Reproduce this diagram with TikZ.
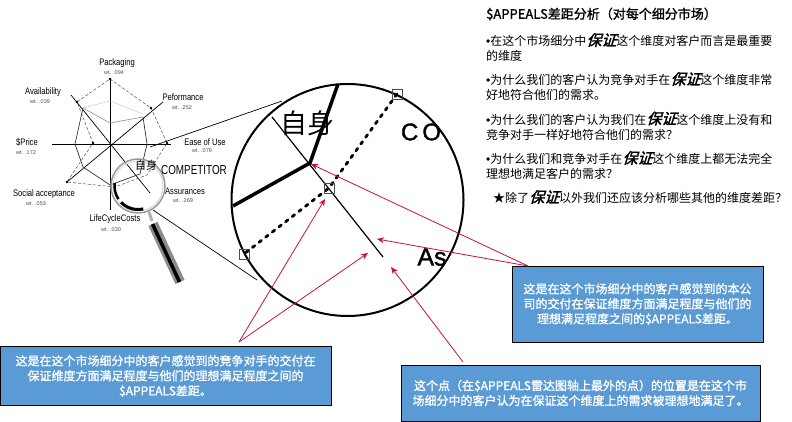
\documentclass[tikz,border=0pt]{standalone}
\usepackage{fontspec}
\setmainfont{Noto Sans CJK SC}
\newfontfamily\latinfont{Liberation Sans}
\newfontfamily\latinheavy[FakeBold=1.5]{Liberation Sans}
\newfontfamily\cjkbold[FakeBold=1.2]{Noto Sans CJK SC}
\newfontfamily\cjkem[FakeSlant=0.3,FakeBold=2]{Noto Sans CJK SC}
\usetikzlibrary{arrows.meta}
\definecolor{boxblue}{HTML}{5B9BD5}
\definecolor{arrowred}{HTML}{C8103F}
\newcommand{\baozheng}{{\fontsize{15}{15}\selectfont\cjkem 保证}}
\tikzset{
    axislabel/.style={font=\latinfont\fontsize{9.5}{10}\selectfont, inner sep=0pt},
    wtlabel/.style={font=\latinfont\fontsize{5.5}{6}\selectfont, text=black!70, inner sep=0pt},
    para/.style={anchor=west, align=left, inner sep=0pt, font=\fontsize{12}{15.2}\selectfont},
    bluebox/.style={draw=black, line width=.8pt, fill=boxblue, text=white, align=center, inner sep=0pt, font=\cjkbold\fontsize{12}{15}\selectfont},
    redarrow/.style={->, draw=arrowred, line width=.8pt},
    marksq/.style={draw=black!70, line width=.8pt, minimum size=10pt, inner sep=0pt}
}
\begin{document}
\begin{tikzpicture}[x=1pt, y=1pt, >={Stealth[length=7pt,width=6pt]}]
    \useasboundingbox (0,0) rectangle (792,422);

    % radar chart
    \foreach \sx/\sy/\ex/\ey in {52/278/171/278, 110/344/110/212, 71/327/150/229, 163/320/67/240}
        \draw[line width=.7pt] (\sx,\sy) -- (\ex,\ey);
    \draw[black!70, densely dashed, line width=.5pt] (110,343) -- (151,314) -- (167,279) -- (147,247)
        -- (115,235) -- (67,240) -- (93,279) -- (77,320) -- (110,343);
    \draw[black!80, line width=.7pt] (143,305) -- (147,278) -- (140,248) -- (110,237)
        -- (83,255) -- (75,278) -- (83,314);
    \draw[black!40, line width=.7pt] (83,314) -- (110,299) -- (143,305);
    \draw[black!20, line width=.5pt] (83,314) -- (110,321) -- (143,308);
    \foreach \px/\py in {110/343, 151/314, 167/279, 67/240, 93/279, 77/320}
        \fill (\px,\py) circle (1.3pt);

    % magnifier with its two view lines
    \draw[line width=.7pt] (150,275) -- (282,321);
    \draw[line width=.7pt] (153,212) -- (257,142);
    \draw[black!40, line width=1.5pt] (138,236) circle (27);
    \draw[black!15, line width=1pt] (138,236) circle (25);
    \draw[line width=2.5pt] (138,236) ++(173:23.5) arc (173:214:23.5);
    \draw[line width=3pt] (138,236) ++(224:23.5) arc (224:283:23.5);
    \draw[black!30, line width=3pt] (149,210) -- (152,201);
    \draw[black!45, line width=10pt] (153,198) -- (180,140);
    \draw[line width=3.5pt] (152.5,198) -- (179.5,140);

    % big circle
    \draw[line width=2pt] (347.5,222) circle (116);
    \coordinate (own) at (310,259);
    \coordinate (ideal) at (329,234);
    \draw[line width=1.2pt] (272,305) -- (383,165);
    \draw[line width=3.5pt] (338,338) -- (own) -- (233,216);
    \draw[line width=2.8pt, line cap=round, dash pattern=on 3pt off 5.4pt] (397,328) -- (ideal) -- (244,168);
    \node[marksq] (sqtop) at (397,328) {};
    \node[marksq] (sqmid) at (329,234) {};
    \node[marksq] (sqlow) at (244,168) {};

    \node[font=\fontsize{27}{27}\selectfont] (ziShen) at (307,299) {自身};
    \node[font=\latinheavy\fontsize{24}{24}\selectfont, inner sep=0pt] (co) at (421,290) {C\,O};
    \node[font=\latinheavy\fontsize{25}{25}\selectfont, inner sep=0pt] (as) at (432,165) {As};

    % axis labels
    \foreach \name/\lx/\ly/\txt/\wx/\wy/\wt in {
        pack/117/359/Packaging/114/349/.094,
        avail/43/330/Availability/40/320/.039,
        perf/183/325/Peformance/182/314/.252,
        ease/205/280/Ease of Use/202/271/.079,
        price/27/280/\$Price/26/269/.172,
        social/44/228/Social acceptance/36/218/.053,
        assur/185/231/Assurances/183/221/.269,
        life/115/203/LifeCycleCosts/111/192/.030}
    {
        \node[axislabel] (\name) at (\lx,\ly) {\scalebox{.8}[1]{\txt}};
        \node[wtlabel] (\name wt) at (\wx,\wy) {wt. \wt};
    }
    \node[font=\fontsize{11}{11}\selectfont, inner sep=0pt] (smallOwn) at (146,257) {自身};
    \node[font=\latinfont\fontsize{13}{13}\selectfont, inner sep=0pt] (smallComp) at (194,252) {\scalebox{.76}[1]{COMPETITOR}};

    % text on the right
    \node[para, font=\cjkbold\fontsize{13}{15}\selectfont] (title) at (486,408) {\$APPEALS差距分析（对每个细分市场）};
    \node[para] (qOne) at (486,374.5) {{\latinfont •}在这个市场细分中\baozheng 这个维度对客户而言是最重要\\的维度};
    \node[para] (qTwo) at (486,335.5) {{\latinfont •}为什么我们的客户认为竞争对手在\baozheng 这个维度非常\\好地符合他们的需求。};
    \node[para] (qThree) at (486,296) {{\latinfont •}为什么我们的客户认为我们在\baozheng 这个维度上没有和\\竞争对手一样好地符合他们的需求？};
    \node[para] (qFour) at (486,256.5) {{\latinfont •}为什么我们和竞争对手在\baozheng 这个维度上都无法完全\\理想地满足客户的需求？};
    \node[para] (qFive) at (493,225) {★除了\baozheng 以外我们还应该分析哪些其他的维度差距？};

    % blue boxes
    \node[bluebox, minimum width=331pt, minimum height=59.5pt] (boxComp) at (165.5,46) {这是在这个市场细分中的客户感觉到的竞争对手的交付在\\保证维度方面满足程度与他们的理想满足程度之间的\\\$APPEALS差距。};
    \node[bluebox, minimum width=251pt, minimum height=76pt] (boxOwn) at (637.5,118) {这是在这个市场细分中的客户感觉到的本公\\司的交付在保证维度方面满足程度与他们的\\理想满足程度之间的\$APPEALS差距。};
    \node[bluebox, minimum width=359pt, minimum height=56pt] (boxIdeal) at (580.5,29) {这个点（在\$APPEALS雷达图轴上最外的点）的位置是在这个市\\场细分中的客户认为在保证这个维度上的需求被理想地满足了。};

    % red arrows
    \coordinate (fromOwn) at (528,156);
    \coordinate (fromComp) at (239,80);
    \coordinate (fromIdeal) at (463,60);
    \coordinate (tipOwnA) at (311,258);
    \coordinate (tipOwnB) at (377,183);
    \coordinate (tipCompA) at (325,223);
    \coordinate (tipCompB) at (368,169);
    \coordinate (tipIdeal) at (391,155);
    \draw[redarrow] (fromOwn) -- (tipOwnA);
    \draw[redarrow] (fromOwn) -- (tipOwnB);
    \draw[redarrow] (fromComp) -- (tipCompA);
    \draw[redarrow] (fromComp) -- (tipCompB);
    \draw[redarrow] (fromIdeal) -- (tipIdeal);
\end{tikzpicture}
\end{document}
